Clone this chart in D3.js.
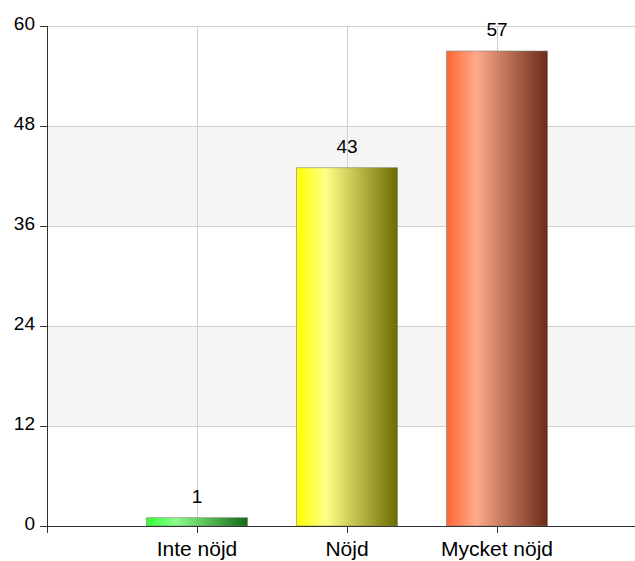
<!DOCTYPE html>
<html>
<head>
<meta charset="utf-8">
<script src="https://cdn.jsdelivr.net/npm/d3@7"></script>
<style>
  html, body { margin: 0; padding: 0; background: #fff; }
  svg { display: block; font-family: "Liberation Sans", Arial, sans-serif; }
</style>
</head>
<body>
<svg id="chart" width="635" height="561"></svg>
<script>
const categories = ["Inte nöjd", "Nöjd", "Mycket nöjd"];
const values = [1, 43, 57];
const yTicks = [0, 12, 24, 36, 48, 60];
const baseColors = ["#33ff33", "#ffff00", "#ff6633"];
const lightColors = ["#8cff8c", "#ffff88", "#ffaa8a"];
const darkColors = ["#146a14", "#6b6b00", "#6b2a18"];

(function () {
const svg = d3.select("#chart");
const mLeft = 47.5, mTop = 26, mBottom = 526, mRight = 635;

const y = d3.scaleLinear().domain([0, 60]).range([mBottom, mTop]);
const x = d3.scaleBand().domain(categories).range([122, 572]).padding(0);
const barW = 101;
const cx = c => x(c) + x.bandwidth() / 2;

const defs = svg.append("defs");
categories.forEach((c, i) => {
  const g = defs.append("linearGradient").attr("id", "g" + i)
    .attr("x1", "0%").attr("x2", "100%").attr("y1", "0%").attr("y2", "0%");
  g.append("stop").attr("offset", "0%").attr("stop-color", baseColors[i]);
  g.append("stop").attr("offset", "29%").attr("stop-color", lightColors[i]);
  g.append("stop").attr("offset", "100%").attr("stop-color", darkColors[i]);
});

// alternating bands
const bandPairs = [[12, 24], [36, 48]];
svg.append("g").selectAll("rect").data(bandPairs).join("rect")
  .attr("x", mLeft).attr("width", mRight - mLeft)
  .attr("y", d => y(d[1])).attr("height", d => y(d[0]) - y(d[1]))
  .attr("fill", "#f5f5f5");

// horizontal grid
svg.append("g").selectAll("line").data(yTicks.filter(v => v > 0)).join("line")
  .attr("x1", mLeft).attr("x2", mRight)
  .attr("y1", d => Math.round(y(d)) + 0.5).attr("y2", d => Math.round(y(d)) + 0.5)
  .attr("stroke", "#d0d0d0").attr("stroke-width", 1);

// vertical grid
svg.append("g").selectAll("line").data(categories).join("line")
  .attr("x1", d => Math.round(cx(d)) + 0.5)
  .attr("x2", d => Math.round(cx(d)) + 0.5)
  .attr("y1", mTop).attr("y2", mBottom)
  .attr("stroke", "#d0d0d0").attr("stroke-width", 1);

// bars
svg.append("g").selectAll("rect").data(values).join("rect")
  .attr("x", (d, i) => cx(categories[i]) - barW / 2)
  .attr("width", barW)
  .attr("y", d => y(d))
  .attr("height", d => mBottom - y(d))
  .attr("fill", (d, i) => "url(#g" + i + ")")
  .attr("stroke", "rgba(120,120,120,0.55)").attr("stroke-width", 1);

// value labels
svg.append("g").selectAll("text").data(values).join("text")
  .attr("x", (d, i) => cx(categories[i]))
  .attr("y", d => y(d) - 15)
  .attr("text-anchor", "middle")
  .attr("font-size", 19)
  .attr("fill", "#000")
  .text(d => d);

// y axis
const yAxis = svg.append("g");
yAxis.append("line").attr("x1", mLeft).attr("x2", mLeft).attr("y1", mTop).attr("y2", mBottom)
  .attr("stroke", "#333");
yAxis.selectAll("line.t").data(yTicks).join("line").attr("class", "t")
  .attr("x1", 40).attr("x2", mLeft)
  .attr("y1", d => Math.round(y(d)) + 0.5).attr("y2", d => Math.round(y(d)) + 0.5)
  .attr("stroke", "#333");
yAxis.selectAll("text").data(yTicks).join("text")
  .attr("x", 35).attr("y", d => y(d) + 3.8)
  .attr("text-anchor", "end").attr("font-size", 19).attr("fill", "#000")
  .text(d => d);

// x axis
const xAxis = svg.append("g");
xAxis.append("line").attr("x1", mLeft).attr("x2", mRight).attr("y1", mBottom + 0.5).attr("y2", mBottom + 0.5)
  .attr("stroke", "#333");
const xTickPos = [mLeft].concat(categories.map(c => Math.round(cx(c)) + 0.5));
xAxis.selectAll("line.t").data(xTickPos).join("line").attr("class", "t")
  .attr("x1", d => d).attr("x2", d => d).attr("y1", mBottom).attr("y2", mBottom + 7)
  .attr("stroke", "#333");
xAxis.selectAll("text").data(categories).join("text")
  .attr("x", d => cx(d)).attr("y", 556)
  .attr("text-anchor", "middle").attr("font-size", 21).attr("fill", "#000")
  .text(d => d);
})();
</script>
</body>
</html>
